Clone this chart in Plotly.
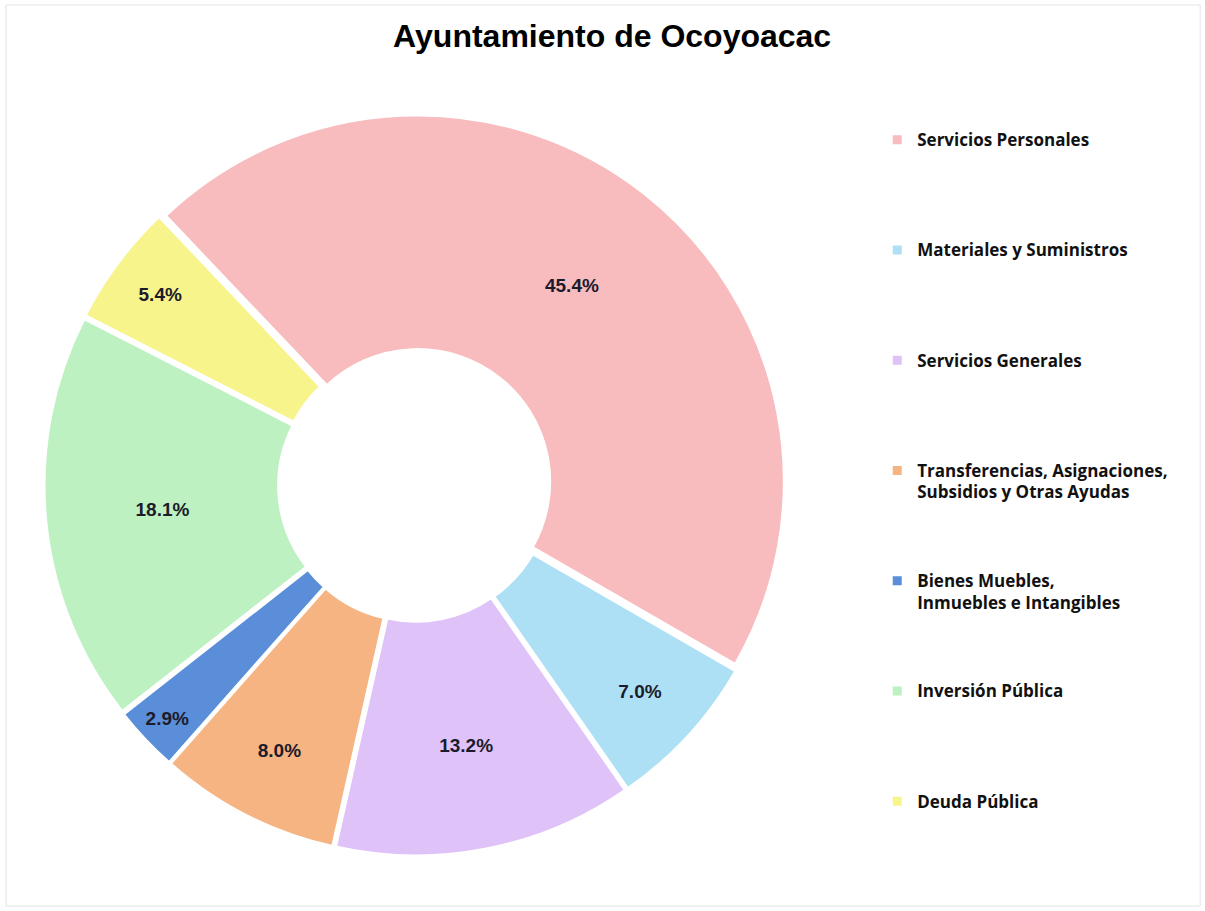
import plotly.graph_objects as go

categories = [
    "Servicios Personales",
    "Materiales y Suministros",
    "Servicios Generales",
    "Transferencias, Asignaciones,<br>Subsidios y Otras Ayudas",
    "Bienes Muebles,<br>Inmuebles e Intangibles",
    "Inversión Pública",
    "Deuda Pública",
]
values = [45.4, 7.0, 13.2, 8.0, 2.9, 18.1, 5.4]
colors = ["#F8BBBE", "#AEE0F5", "#DFC2F8", "#F5B482", "#5B8ED8", "#BDF1C2", "#F7F48C"]

# legend labels: visible text + padding lines to reproduce the wide spacing
legend_labels = []
for c in categories:
    n = c.count("<br>") + 1
    txt = "<br>".join('<span style="font-size:17px">' + part + "</span>" for part in c.split("<br>"))
    legend_labels.append(txt + "<br>&nbsp;" * (5 - n))

fig = go.Figure(
    go.Pie(
        labels=legend_labels,
        values=values,
        sort=False,
        direction="clockwise",
        rotation=-43.5,
        hole=0.36,
        pull=[0.012] * len(values),
        marker=dict(colors=colors, line=dict(color="white", width=3)),
        textinfo="percent",
        texttemplate="%{value:.1f}%",
        textposition="inside",
        insidetextorientation="horizontal",
        textfont=dict(family="Liberation Sans Narrow, Arial Narrow, Liberation Sans, Arial", size=19, color="#1b1b2b", weight="bold"),
        domain=dict(x=[0.0365, 0.6523], y=[0.0604, 0.8749]),
        hoverinfo="label+percent",
    )
)

fig.update_layout(
    width=1205,
    height=911,
    margin=dict(l=0, r=0, t=0, b=0),
    paper_bgcolor="white",
    plot_bgcolor="white",
    title=dict(
        text="<b>Ayuntamiento de Ocoyoacac</b>",
        x=0.508,
        xanchor="center",
        y=0.961,
        yanchor="middle",
        font=dict(family="Liberation Sans, Arial", size=32, color="black"),
    ),
    uniformtext=dict(mode="show", minsize=19),
    legend=dict(
        x=0.728,
        xanchor="left",
        y=0.8656,
        yanchor="top",
        valign="top",
        font=dict(family="Open Sans", size=16.5, color="#111111", weight="bold"),
        bgcolor="rgba(0,0,0,0)",
        itemclick=False,
    ),
    shapes=[
        dict(type="rect", xref="paper", yref="paper", x0=0.005, x1=0.996, y0=0.0055, y1=0.9945,
             line=dict(color="#E3E3E3", width=1), fillcolor="rgba(0,0,0,0)", layer="below")
    ],
)

fig.write_html("out.html", config={"displayModeBar": False},
               post_script="document.body.style.margin='0';")
